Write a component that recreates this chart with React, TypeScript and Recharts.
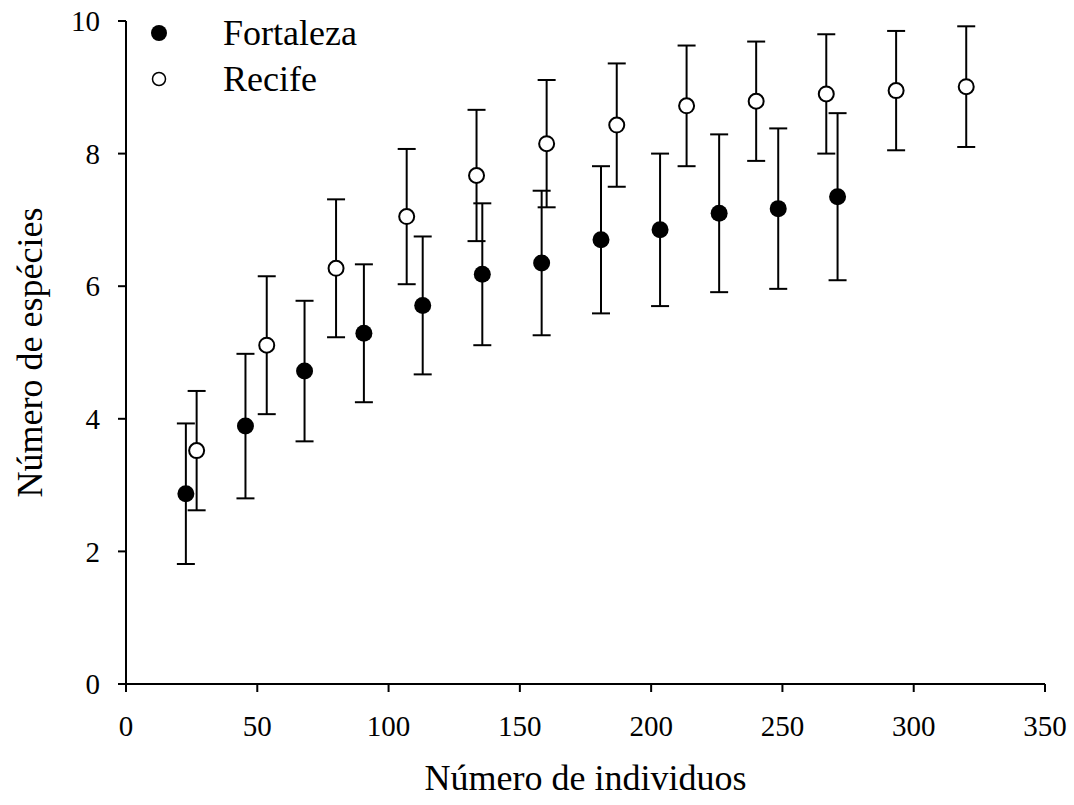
import { ScatterChart, Scatter, XAxis, YAxis, ErrorBar, Legend } from "recharts";

// Fortaleza (filled)
const fortX = [22.8, 45.5, 68, 90.6, 113, 135.7, 158.3, 180.9, 203.4, 225.9, 248.4, 271];
const fortY = [2.87, 3.89, 4.72, 5.29, 5.71, 6.18, 6.35, 6.70, 6.85, 7.10, 7.17, 7.35];
const fortErr = [1.06, 1.09, 1.06, 1.04, 1.04, 1.07, 1.09, 1.11, 1.15, 1.19, 1.21, 1.26];

// Recife (open)
const recX = [26.9, 53.6, 80, 106.9, 133.5, 160.2, 186.9, 213.5, 240, 266.7, 293.3, 320];
const recY = [3.52, 5.11, 6.27, 7.05, 7.67, 8.15, 8.43, 8.72, 8.79, 8.90, 8.95, 9.01];
const recErr = [0.9, 1.04, 1.04, 1.02, 0.99, 0.96, 0.93, 0.91, 0.9, 0.9, 0.9, 0.91];

const xTicks = [0, 50, 100, 150, 200, 250, 300, 350];
const yTicks = [0, 2, 4, 6, 8, 10];

const fortaleza = fortX.map((x, i) => ({ x, y: fortY[i], err: fortErr[i] }));
const recife = recX.map((x, i) => ({ x, y: recY[i], err: recErr[i] }));

const font = '"Liberation Serif", "Times New Roman", serif';

const FilledDot = (p: any) => <circle cx={p.cx} cy={p.cy} r={8.5} fill="#000" />;
const OpenDot = (p: any) => <circle cx={p.cx} cy={p.cy} r={7.5} fill="#fff" stroke="#000" strokeWidth={2} />;

const legendItems = [
  { name: "Fortaleza", filled: true },
  { name: "Recife", filled: false },
];

const LegendBox = () => (
  <div style={{ fontFamily: font, fontSize: 36, color: "#000" }}>
    {legendItems.map(it => (
      <div key={it.name} style={{ display: "flex", alignItems: "center", height: 46, lineHeight: "46px" }}>
        <svg width={22} height={46}>
          {it.filled
            ? <circle cx={11} cy={23} r={8} fill="#000" />
            : <circle cx={11} cy={23} r={6.5} fill="#fff" stroke="#000" strokeWidth={1.5} />}
        </svg>
        <span style={{ marginLeft: 53 }}>{it.name}</span>
      </div>
    ))}
  </div>
);

export default function App() {
  return (
    <div style={{ position: "absolute", left: 0, top: 0, fontFamily: font, background: "#fff" }}>
      <ScatterChart width={1074} height={805} margin={{ top: 21, right: 29, bottom: 0, left: 0 }}>
        <XAxis
          type="number" dataKey="x" domain={[0, 350]} ticks={xTicks} height={121}
          stroke="#000" strokeWidth={2} tickSize={8} tickMargin={23}
          tick={{ fontSize: 29, fill: "#000", fontFamily: font }}
          label={{ value: "Número de individuos", position: "insideBottom", offset: 15, fontSize: 36, fill: "#000", fontFamily: font }}
        />
        <YAxis
          type="number" dataKey="y" domain={[0, 10]} ticks={yTicks} width={126}
          stroke="#000" strokeWidth={2} tickSize={8} tickMargin={18}
          tick={{ fontSize: 29, fill: "#000", fontFamily: font }}
          label={{ value: "Número de espécies", angle: -90, position: "insideLeft", offset: 29, fontSize: 36, fill: "#000", fontFamily: font, style: { textAnchor: "middle" } }}
        />
        <Legend
          layout="vertical" align="center" verticalAlign="middle"
          wrapperStyle={{ left: 148, top: 10, width: 300 }}
          content={() => <LegendBox />}
        />
        <Scatter name="Fortaleza" data={fortaleza} shape={FilledDot} isAnimationActive={false}>
          <ErrorBar dataKey="err" direction="y" width={9} stroke="#000" strokeWidth={2} isAnimationActive={false} />
        </Scatter>
        <Scatter name="Recife" data={recife} shape={OpenDot} isAnimationActive={false}>
          <ErrorBar dataKey="err" direction="y" width={9} stroke="#000" strokeWidth={2} isAnimationActive={false} />
        </Scatter>
      </ScatterChart>
    </div>
  );
}
